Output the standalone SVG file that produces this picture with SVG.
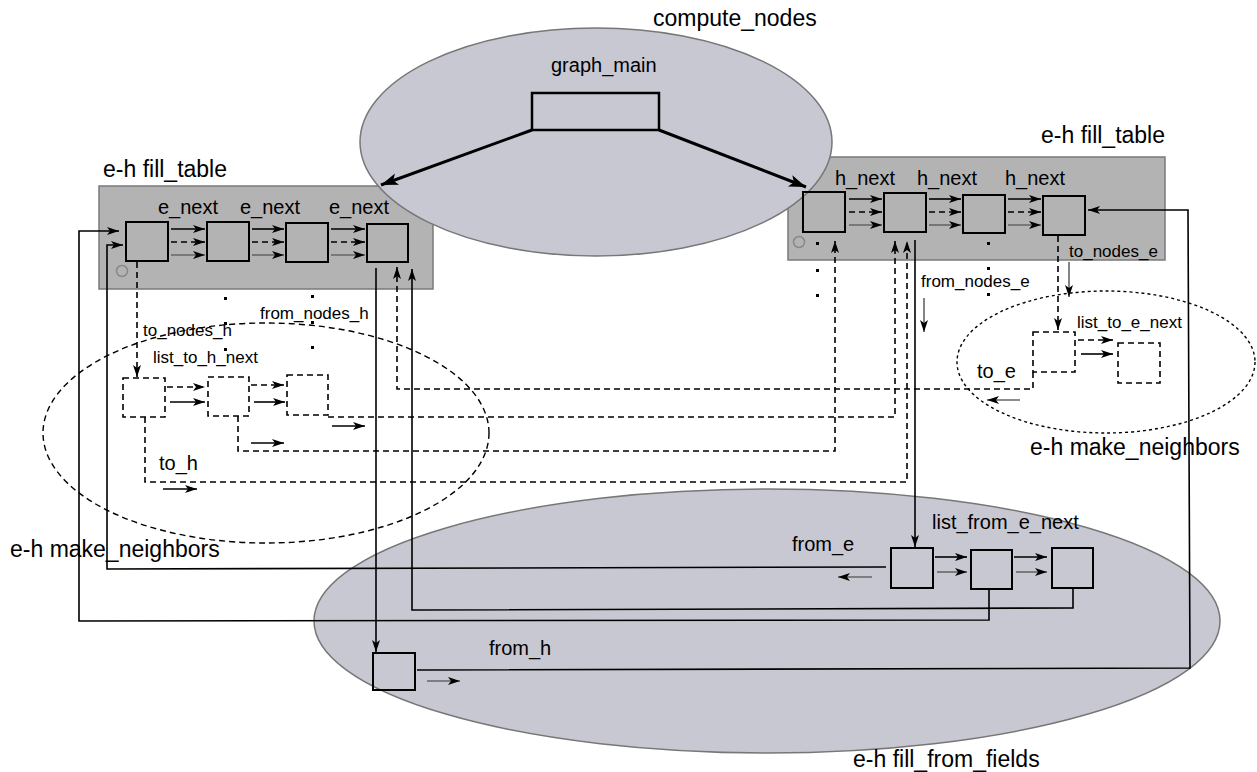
<svg xmlns="http://www.w3.org/2000/svg" width="1257" height="772" viewBox="0 0 1257 772">
<defs>
<style>
text{font-family:"Liberation Sans",Arial,sans-serif;fill:#000}
.big{font-size:23px}
.mid{font-size:20px}
.sm{font-size:17px}
.tbl{fill:#b3b3b3;stroke:#7a7a7a;stroke-width:1.5}
.ell{fill:#c8c8d2;stroke:#777;stroke-width:1.5}
.box{fill:none;stroke:#000;stroke-width:2}
.dbox{fill:none;stroke:#000;stroke-width:1.6;stroke-dasharray:6,4}
.ln{fill:none;stroke:#000;stroke-width:1.6}
.dl{fill:none;stroke:#000;stroke-width:1.6;stroke-dasharray:6,4}
.gl{fill:none;stroke:#666;stroke-width:1.6}
.thick{fill:none;stroke:#000;stroke-width:3}
.a{marker-end:url(#ah)}
.at{marker-end:url(#aht)}
.dot{fill:#000}
.circ{fill:none;stroke:#888;stroke-width:1.5}
</style>
<marker id="ah" markerUnits="userSpaceOnUse" markerWidth="14" markerHeight="10" refX="12" refY="4" orient="auto" overflow="visible">
<path d="M0,0 L12,4 L0,8 L3,4 Z" fill="#000"/>
</marker>
<marker id="aht" markerUnits="userSpaceOnUse" markerWidth="20" markerHeight="14" refX="17" refY="6" orient="auto" overflow="visible">
<path d="M0,0 L17,6 L0,12 L4,6 Z" fill="#000"/>
</marker>
</defs>

<g id="fill_from_fields">
<ellipse class="ell" cx="767" cy="621" rx="453" ry="132"/>
<text class="big" x="853" y="767">e-h fill_from_fields</text>
</g>

<g id="fill_table_left">
<rect class="tbl" x="99" y="186" width="334" height="103"/>
<text class="big" x="103" y="177">e-h fill_table</text>
</g>
<g id="fill_table_right">
<rect class="tbl" x="788" y="157" width="377" height="103"/>
<text class="big" x="1041" y="143">e-h fill_table</text>
</g>

<g id="compute_nodes">
<ellipse class="ell" cx="596" cy="142" rx="236" ry="114"/>
<text class="big" x="653" y="26">compute_nodes</text>
</g>

<g id="graph_main">
<rect x="532" y="93" width="127" height="37" fill="none" stroke="#000" stroke-width="2.5"/>
<text class="mid" x="551" y="72">graph_main</text>
</g>

<g id="make_neighbors_left">
<ellipse cx="266" cy="433" rx="223" ry="110" fill="none" stroke="#000" stroke-width="1.4" stroke-dasharray="6,4"/>
<text class="big" x="10" y="557">e-h make_neighbors</text>
</g>
<g id="make_neighbors_right">
<ellipse cx="1106" cy="362" rx="149" ry="71" fill="none" stroke="#000" stroke-width="1.4" stroke-dasharray="3,3"/>
<text class="big" x="1030" y="455">e-h make_neighbors</text>
</g>

<g id="e_list">
<rect class="box" x="126" y="222" width="42" height="39"/>
<rect class="box" x="207" y="222" width="42" height="39"/>
<rect class="box" x="286" y="223" width="42" height="39"/>
<rect class="box" x="367" y="224" width="41" height="38"/>
<circle class="circ" cx="122" cy="271" r="5.5"/>
<text class="mid" x="158" y="214">e_next</text>
<text class="mid" x="240" y="214">e_next</text>
<text class="mid" x="329" y="214">e_next</text>
</g>

<g id="h_list">
<rect class="box" x="803" y="192" width="42" height="40"/>
<rect class="box" x="884" y="193" width="42" height="39"/>
<rect class="box" x="963" y="195" width="42" height="38"/>
<rect class="box" x="1043" y="196" width="42" height="39"/>
<circle class="circ" cx="799" cy="242" r="5.5"/>
<text class="mid" x="835" y="185">h_next</text>
<text class="mid" x="917" y="185">h_next</text>
<text class="mid" x="1005" y="185">h_next</text>
<text class="sm" x="1069" y="257">to_nodes_e</text>
</g>

<g id="to_h_list">
<rect class="dbox" x="123" y="378" width="42" height="39"/>
<rect class="dbox" x="208" y="377" width="41" height="39"/>
<rect class="dbox" x="287" y="375" width="41" height="40"/>
<text class="sm" x="143" y="336">to_nodes_h</text>
<text class="sm" x="260" y="319">from_nodes_h</text>
<text class="sm" x="153" y="363">list_to_h_next</text>
<text class="mid" x="159" y="470">to_h</text>
</g>

<g id="to_e_list">
<rect class="dbox" x="1033" y="332" width="42" height="40"/>
<rect class="dbox" x="1118" y="343" width="42" height="40"/>
<text class="sm" x="1077" y="328">list_to_e_next</text>
<text class="mid" x="977" y="378">to_e</text>
<text class="sm" x="921" y="287">from_nodes_e</text>
</g>

<g id="from_e_list">
<rect class="box" x="891" y="548" width="42" height="40"/>
<rect class="box" x="971" y="550" width="41" height="39"/>
<rect class="box" x="1052" y="548" width="41" height="40"/>
<text class="mid" x="932" y="529">list_from_e_next</text>
<text class="mid" x="792" y="551">from_e</text>
</g>

<g id="from_h_node">
<rect class="box" x="373" y="653" width="42" height="37"/>
<text class="mid" x="489" y="655">from_h</text>
</g>

<g id="dots">
<rect class="dot" x="224" y="297" width="3" height="3"/>
<rect class="dot" x="224" y="322" width="3" height="3"/>
<rect class="dot" x="224" y="348" width="3" height="3"/>
<rect class="dot" x="311" y="295" width="3" height="3"/>
<rect class="dot" x="311" y="321" width="3" height="3"/>
<rect class="dot" x="311" y="346" width="3" height="3"/>
<rect class="dot" x="816" y="242" width="3" height="3"/>
<rect class="dot" x="816" y="269" width="3" height="3"/>
<rect class="dot" x="816" y="294" width="3" height="3"/>
<rect class="dot" x="987" y="242" width="3" height="3"/>
<rect class="dot" x="987" y="267" width="3" height="3"/>
<rect class="dot" x="987" y="293" width="3" height="3"/>
</g>

<g id="connectors">
<!-- compute_nodes thick arrows -->
<path class="thick at" d="M532,130 L381,185"/>
<path class="thick at" d="M659,130 L806,187"/>

<!-- left table row arrows -->
<path class="ln a" d="M171,229 L205,229"/>
<path class="dl a" d="M171,242 L205,242"/>
<path class="gl a" d="M171,255 L205,255"/>
<path class="ln a" d="M252,229 L284,229"/>
<path class="dl a" d="M252,242 L284,242"/>
<path class="gl a" d="M252,255 L284,255"/>
<path class="ln a" d="M331,229 L365,229"/>
<path class="dl a" d="M331,242 L365,242"/>
<path class="gl a" d="M331,255 L365,255"/>

<!-- right table row arrows -->
<path class="ln a" d="M849,199 L882,199"/>
<path class="dl a" d="M849,212 L882,212"/>
<path class="gl a" d="M849,225 L882,225"/>
<path class="ln a" d="M929,199 L961,199"/>
<path class="dl a" d="M929,212 L961,212"/>
<path class="gl a" d="M929,225 L961,225"/>
<path class="ln a" d="M1008,199 L1041,199"/>
<path class="dl a" d="M1008,212 L1041,212"/>
<path class="gl a" d="M1008,225 L1041,225"/>

<!-- to_h list arrows -->
<path class="dl a" d="M167,387 L205,387"/>
<path class="ln a" d="M170,402 L205,402"/>
<path class="dl a" d="M251,385 L284,385"/>
<path class="ln a" d="M254,402 L285,402"/>
<path class="ln a" d="M332,426 L365,426"/>
<path class="ln a" d="M251,443 L284,443"/>
<path class="ln a" d="M163,489 L197,489"/>

<!-- to_e list arrows -->
<path class="dl a" d="M1078,340 L1113,340"/>
<path class="ln a" d="M1081,354 L1113,354"/>
<path class="gl a" d="M1020,400 L987,400"/>
<path class="gl a" d="M924,298 L924,332"/>
<path class="gl a" d="M1069,262 L1069,297"/>

<!-- from_e list arrows -->
<path class="ln a" d="M935,557 L967,557"/>
<path class="gl a" d="M937,572 L967,572"/>
<path class="ln a" d="M1014,557 L1047,557"/>
<path class="gl a" d="M1016,572 L1047,572"/>
<path class="gl a" d="M872,577 L838,577"/>
<path class="gl a" d="M427,681 L460,681"/>

<!-- to_nodes_h: left table box1 to to_h box1 -->
<path class="dl a" d="M137,262 L137,377"/>
<!-- to_nodes_e: right table box4 to to_e box1 -->
<path class="dl a" d="M1058,236 L1058,330"/>

<!-- to_e box1 back to left table box4 -->
<path class="dl a" d="M1033,372 L1033,389 L397,389 L397,267"/>
<!-- to_h box3 to right table box2 -->
<path class="dl a" d="M328,417 L895,417 L895,241"/>
<!-- to_h box2 to right table box1 -->
<path class="dl a" d="M238,416 L238,451 L835,451 L835,241"/>
<!-- to_h box1 to right table box2 -->
<path class="dl a" d="M145,417 L145,482 L907,482 L907,241"/>

<!-- from_nodes_e: right table box2 to from_e box1 -->
<path class="ln a" d="M915,240 L915,547"/>
<!-- from_nodes_h: left table box4 to from_h -->
<path class="ln a" d="M376,268 L376,652"/>
<!-- from_h to right table box4 -->
<path class="ln a" d="M417,670 L1190,668 L1188,210 L1088,210"/>
<!-- from_e box1 to left table box1 -->
<path class="ln a" d="M886,567 L107,569 L107,245 L123,245"/>
<!-- from_e box2 to left table box1 -->
<path class="ln a" d="M989,589 L989,620 L79,621 L79,231 L119,231"/>
<!-- from_e box3 to left table box4 -->
<path class="ln a" d="M1073,588 L1073,608 L412,610 L412,269"/>
</g>
</svg>
